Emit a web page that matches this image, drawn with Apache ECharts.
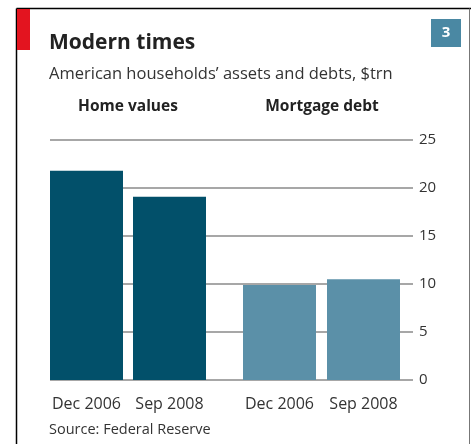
<!DOCTYPE html>
<html>
<head>
<meta charset="utf-8">
<script src="https://cdn.jsdelivr.net/npm/echarts@6/dist/echarts.min.js"></script>
<style>
  html, body { margin: 0; padding: 0; background: #fff; }
  #chart { width: 471px; height: 444px; }
</style>
</head>
<body>
<div id="chart"></div>
<script>
// data
var dates = ['Dec 2006', 'Sep 2008'];
var homeValues = [21.8, 19.1];
var mortgageDebt = [9.9, 10.5];
var yTicks = [0, 5, 10, 15, 20, 25];

var font = '"Open Sans", sans-serif';
var darkBlue = '#02506a';
var lightBlue = '#5b90a8';

var myChart = echarts.init(document.getElementById('chart'));

// 3 grids: one for gridlines + y labels, two for the bar groups
var plotTop = 140, plotBottom = 444 - 380;

var option = {
    animation: false,
    backgroundColor: '#fff',
    grid: [
        {left: 50, right: 471 - 413, top: plotTop, bottom: plotBottom},
        {left: 45, width: 166, top: plotTop, bottom: plotBottom},
        {left: 237.5, width: 168, top: plotTop, bottom: plotBottom}
    ],
    xAxis: [
        {gridIndex: 0, type: 'value', show: false, min: 0, max: 1},
        {
            gridIndex: 1, type: 'category', data: dates,
            axisLine: {show: false}, axisTick: {show: false},
            axisLabel: {fontFamily: font, fontSize: 16, color: '#333', margin: 16, interval: 0, hideOverlap: false}
        },
        {
            gridIndex: 2, type: 'category', data: dates,
            axisLine: {show: false}, axisTick: {show: false},
            axisLabel: {fontFamily: font, fontSize: 16, color: '#333', margin: 16, interval: 0, hideOverlap: false}
        }
    ],
    yAxis: [
        {
            gridIndex: 0, type: 'value', position: 'right',
            min: yTicks[0], max: yTicks[yTicks.length - 1], interval: yTicks[1] - yTicks[0],
            axisLine: {show: false}, axisTick: {show: false},
            splitLine: {show: true, lineStyle: {color: '#8a8a8a', width: 1.5}},
            axisLabel: {fontFamily: font, fontSize: 15, color: '#333', margin: 6, align: 'left'}
        },
        {gridIndex: 1, type: 'value', show: false, min: 0, max: 25, splitLine: {show: false}},
        {gridIndex: 2, type: 'value', show: false, min: 0, max: 25, splitLine: {show: false}}
    ],
    series: [
        {
            name: 'Home values', type: 'bar', xAxisIndex: 1, yAxisIndex: 1,
            data: homeValues, barWidth: 73, z: 5,
            itemStyle: {color: darkBlue}
        },
        {
            name: 'Mortgage debt', type: 'bar', xAxisIndex: 2, yAxisIndex: 2,
            data: mortgageDebt, barWidth: 73, z: 5,
            itemStyle: {color: lightBlue}
        }
    ],
    graphic: [
        // frame
        {type: 'line', shape: {x1: 16.5, y1: 8.5, x2: 471, y2: 8.5}, style: {stroke: '#000', lineWidth: 1.5}},
        {type: 'line', shape: {x1: 16.5, y1: 8.5, x2: 16.5, y2: 444}, style: {stroke: '#000', lineWidth: 1.5}},
        {type: 'line', shape: {x1: 469.5, y1: 8.5, x2: 469.5, y2: 444}, style: {stroke: '#777', lineWidth: 1}},
        // red marker
        {type: 'rect', shape: {x: 17, y: 9, width: 13, height: 41}, style: {fill: '#e3141f'}},
        // number box
        {type: 'rect', shape: {x: 431, y: 19, width: 30, height: 28}, style: {fill: '#4a88a3'}},
        {type: 'text', x: 446, y: 33, style: {text: '3', fill: '#fff', font: 'bold 15px ' + font, align: 'center', verticalAlign: 'middle'}},
        // titles
        {type: 'text', x: 49, y: 43, style: {text: 'Modern times', fill: '#222', font: 'bold 21px ' + font, verticalAlign: 'middle'}},
        {type: 'text', x: 49, y: 74, style: {text: 'American households\u2019 assets and debts, $trn', fill: '#333', font: '16.5px ' + font, verticalAlign: 'middle'}},
        {type: 'text', x: 128, y: 107, style: {text: 'Home values', fill: '#222', font: 'bold 15.5px ' + font, align: 'center', verticalAlign: 'middle'}},
        {type: 'text', x: 322, y: 107, style: {text: 'Mortgage debt', fill: '#222', font: 'bold 15.5px ' + font, align: 'center', verticalAlign: 'middle'}},
        {type: 'text', x: 49, y: 430, style: {text: 'Source: Federal Reserve', fill: '#333', font: '14.5px ' + font, verticalAlign: 'middle'}}
    ]
};

myChart.setOption(option);
</script>
</body>
</html>
